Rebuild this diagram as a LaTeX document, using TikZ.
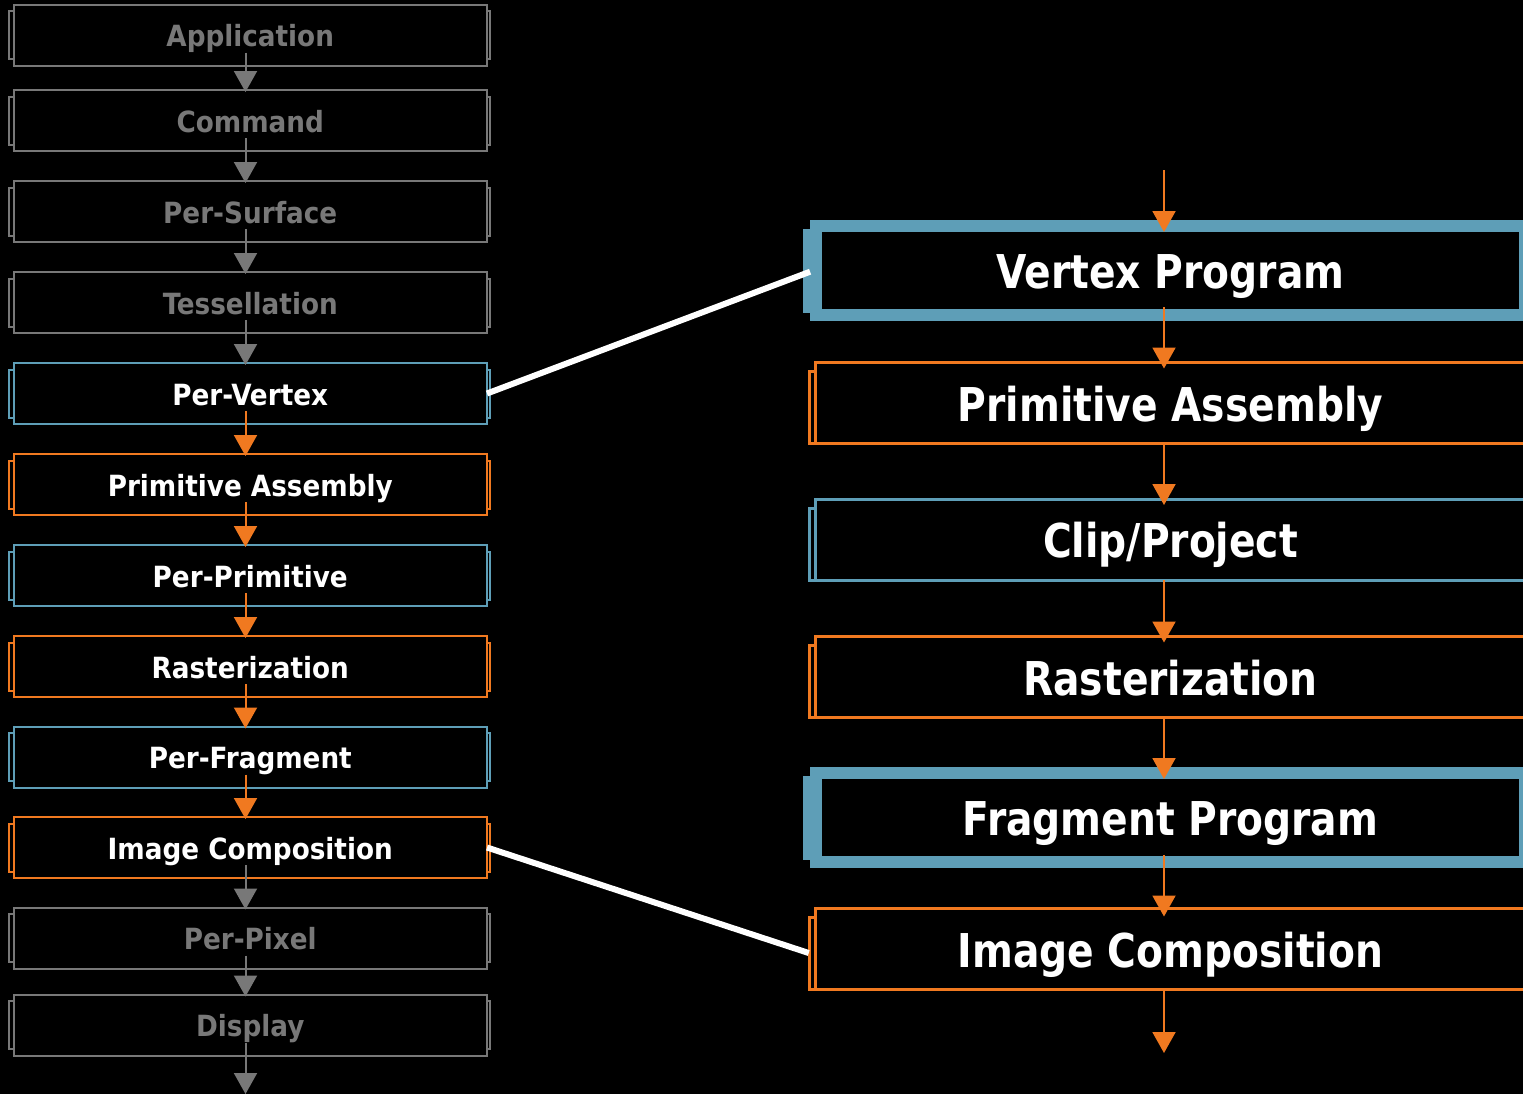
\documentclass[tikz,border=0pt]{standalone}
\usepackage{fontspec}
\usetikzlibrary{arrows.meta,calc}
\newfontfamily\stagefont{DejaVu Sans Condensed}[BoldFont={DejaVu Sans Condensed Bold}]
\newfontfamily\detailfont{DejaVu Sans Condensed}[BoldFont={DejaVu Sans Condensed Bold},FakeStretch=0.935]

\definecolor{stageblue}{RGB}{94,158,183}
\definecolor{stageorange}{RGB}{240,121,32}
\definecolor{stagegray}{RGB}{120,120,120}

\tikzset{
  lbox/.style={draw=#1, line width=1pt, fill=black, inner sep=0pt, outer sep=0pt,
    minimum width=236.75pt, minimum height=30.5pt,
    font=\stagefont\bfseries\fontsize{14.6}{17}\selectfont,
    text height=14pt, text depth=2.4pt},
  rbox/.style={draw=#1, line width=1.5pt, fill=black, inner sep=0pt, outer sep=0pt,
    minimum width=354.75pt, minimum height=40.5pt, text=white,
    font=\detailfont\bfseries\fontsize{23.3}{28}\selectfont,
    text height=21pt, text depth=3pt},
  rthick/.style={rbox=stageblue, line width=6pt, minimum width=354.5pt, minimum height=44.5pt},
  garrow/.style={draw=#1, line width=1pt, -{Triangle[width=11.5pt,length=10.5pt]}, fill=none},
  link/.style={draw=white, line width=3pt},
}

% one stage of the left-hand pipeline: name, centre y, label, frame colour, text colour
\newcommand\leftstage[5]{%
  \node[lbox=#4, text=#5] (#1) at (250.25,#2) {#3};
  \draw[#4, line width=1pt]
    ([xshift=-2.5pt,yshift=-3.25pt]#1.north west) rectangle ([yshift=3.25pt]#1.south west)
    ([yshift=-3.25pt]#1.north east) rectangle ([xshift=1.5pt,yshift=3.25pt]#1.south east);
}
% a thin stage of the right-hand detail: name, centre y, label, colour
\newcommand\rightstage[4]{%
  \node[rbox=#4] (#1) at (1170.5,#2) {#3};
  \draw[#4, line width=1.5pt]
    ([xshift=-3pt,yshift=-4.5pt]#1.north west) rectangle (#1.south west);
}
% a programmable stage with a heavy frame: name, centre y, label
\newcommand\programstage[3]{%
  \node[rthick] (#1) at (1170.6,#2) {#3};
  \fill[stageblue] ([xshift=-6.55pt,yshift=-1.3pt]#1.north west) rectangle ([xshift=-2pt,yshift=1.2pt]#1.south west);
}

\begin{document}
\begin{tikzpicture}[x=0.5pt,y=-0.5pt]
\useasboundingbox (0,0) rectangle (1523,1094);
\clip (0,0) rectangle (1523,1094);
\fill[black] (0,0) rectangle (1523,1094);

% left pipeline
\leftstage{app}{35}{Application}{stagegray}{stagegray}
\leftstage{cmd}{120.5}{Command}{stagegray}{stagegray}
\leftstage{surf}{211.5}{Per-Surface}{stagegray}{stagegray}
\leftstage{tess}{302.5}{Tessellation}{stagegray}{stagegray}
\leftstage{vert}{393.5}{Per-Vertex}{stageblue}{white}
\leftstage{prim}{484.5}{Primitive Assembly}{stageorange}{white}
\leftstage{perprim}{575.5}{Per-Primitive}{stageblue}{white}
\leftstage{rast}{666.5}{Rasterization}{stageorange}{white}
\leftstage{frag}{757}{Per-Fragment}{stageblue}{white}
\leftstage{comp}{847.5}{Image Composition}{stageorange}{white}
\leftstage{pix}{938}{Per-Pixel}{stagegray}{stagegray}
\leftstage{disp}{1025}{Display}{stagegray}{stagegray}

\coordinate (laxis) at (245.5,0);
\coordinate (lout) at (245.5,1094);
\foreach \a/\b/\c in {app/cmd/stagegray, cmd/surf/stagegray, surf/tess/stagegray,
    tess/vert/stagegray, vert/prim/stageorange, prim/perprim/stageorange,
    perprim/rast/stageorange, rast/frag/stageorange, frag/comp/stageorange,
    comp/pix/stagegray, pix/disp/stagegray}
  \draw[garrow=\c] ($(laxis |- \a.south)+(0,-13)$) -- ($(laxis |- \b.north)+(0,2)$);
\draw[garrow=stagegray] ($(laxis |- disp.south)+(0,-13)$) -- (lout);

% right detail
\programstage{vp}{270.9}{Vertex Program}
\rightstage{pa}{403}{Primitive Assembly}{stageorange}
\rightstage{cp}{539.5}{Clip/Project}{stageblue}
\rightstage{ra}{677}{Rasterization}{stageorange}
\programstage{fp}{817.5}{Fragment Program}
\rightstage{ic}{949}{Image Composition}{stageorange}

\coordinate (raxis) at (1164,0);
\coordinate (rin) at (1164,170);
\coordinate (rout) at (1164,1053);
\draw[garrow=stageorange] (rin) -- ($(raxis |- vp.north)+(0,5.6)$);
\draw[garrow=stageorange] ($(raxis |- vp.south)+(0,-8)$) -- ($(raxis |- pa.north)+(0,6)$);
\draw[garrow=stageorange] (raxis |- pa.south) -- ($(raxis |- cp.north)+(0,6)$);
\draw[garrow=stageorange] (raxis |- cp.south) -- ($(raxis |- ra.north)+(0,6)$);
\draw[garrow=stageorange] (raxis |- ra.south) -- ($(raxis |- fp.north)+(0,6)$);
\draw[garrow=stageorange] ($(raxis |- fp.south)+(0,-7)$) -- ($(raxis |- ic.north)+(0,8)$);
\draw[garrow=stageorange] (raxis |- ic.south) -- (rout);

% zoom links
\draw[link] (vert.east) -- ($(vp.west)+(-6,0.8)$);
\draw[link] (comp.east) -- ($(ic.west)+(-7,4)$);
\end{tikzpicture}
\end{document}
